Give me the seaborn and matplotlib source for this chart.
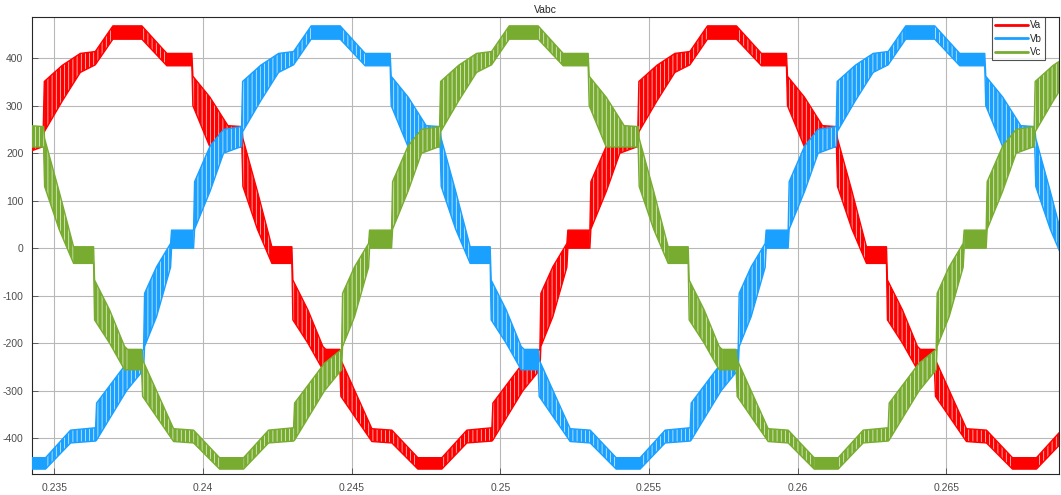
import numpy as np
import pandas as pd
import matplotlib
matplotlib.use("Agg")
import matplotlib.pyplot as plt
import seaborn as sns
from matplotlib.lines import Line2D

# One period of the phase-a voltage band.
# offset_ms: time after the start of the positive top flat (ms)
offset_ms = [0.000, 0.975, 1.816, 2.657, 2.691, 3.263, 3.868, 4.339, 4.373, 4.860, 5.348,
             6.021, 6.054, 6.560, 7.064, 7.165, 7.635, 7.669, 8.712, 9.384, 10.259, 11.066,
             11.907, 12.748, 12.782, 13.790, 14.363, 14.396, 14.800, 15.271, 15.304, 16.044, 16.078,
             16.600, 17.053, 17.659, 17.693, 18.300, 18.904, 19.408]
band_lo = [440, 440, 384, 384, 300, 213, 213, 213, 130, 40, -32,
           -32, -151, -200, -256, -256, -256, -312, -407, -410, -465, -465,
           -410, -406, -404, -300, -256, -207, -144, -40, 0, 0, 40,
           120, 200, 214, 245, 310, 370, 386]
band_hi = [468, 468, 410, 410, 362, 318, 258, 256, 231, 120, 3,
           3, -67, -130, -207, -213, -213, -235, -380, -383, -441, -441,
           -383, -378, -326, -242, -213, -95, -39, 10, 38, 38, 140,
           215, 250, 256, 351, 385, 410, 414]

series = ["Va", "Vb", "Vc"]
colors = ["#FF0000", "#1AA0FF", "#77AC30"]
phase_start_s = [0.23697, 0.24364, 0.25030]
period_s = 0.02

xticks = [0.235, 0.24, 0.245, 0.25, 0.255, 0.26, 0.265]
xticklabels = ["0.235", "0.24", "0.245", "0.25", "0.255", "0.26", "0.265"]
yticks = [-400, -300, -200, -100, 0, 100, 200, 300, 400]
yticklabels = ["-400", "-300", "-200", "-100", "0", "100", "200", "300", "400"]
xlim = (0.23424, 0.26879)
ylim = (-476, 486)

# build long table
rows = []
for name, start in zip(series, phase_start_s):
    for k in range(-2, 3):
        for o, lo, hi in zip(offset_ms, band_lo, band_hi):
            rows.append((name, start + k * period_s + o / 1000.0, lo, hi))
df = pd.DataFrame(rows, columns=["series", "t", "lo", "hi"]).sort_values(["series", "t"], kind="stable")

sns.set_theme(style="whitegrid")
plt.rcParams["font.family"] = ["Liberation Sans", "DejaVu Sans"]
plt.rcParams["hatch.linewidth"] = 0.45

fig = plt.figure(figsize=(10.61, 4.95), dpi=100)
ax = fig.add_axes([0.0299, 0.0418, 0.9681, 0.9232])

for i, (name, col) in enumerate(zip(series, colors)):
    d = df[df["series"] == name]
    t = d["t"].to_numpy()
    lo = d["lo"].to_numpy()
    hi = d["hi"].to_numpy()
    z = 3 + i
    ax.fill_between(t, lo, hi, facecolor=col, linewidth=0, zorder=z)
    # switching (sloped) segments get the PWM stripe texture
    for j in range(len(t) - 1):
        if lo[j] != lo[j + 1] or hi[j] != hi[j + 1]:
            ax.fill_between(t[j:j + 2], lo[j:j + 2], hi[j:j + 2], facecolor="none",
                            edgecolor="white", hatch="||||", linewidth=0, zorder=z)
    sns.lineplot(data=d, x="t", y="hi", ax=ax, color=col, lw=1.0, estimator=None,
                 sort=False, zorder=z)
    sns.lineplot(data=d, x="t", y="lo", ax=ax, color=col, lw=1.0, estimator=None,
                 sort=False, zorder=z)

ax.set_xlim(*xlim)
ax.set_ylim(*ylim)
ax.set_xticks(xticks)
ax.set_xticklabels(xticklabels)
ax.set_yticks(yticks)
ax.set_yticklabels(yticklabels)
ax.set_xlabel("")
ax.set_ylabel("")
ax.set_facecolor("white")
ax.grid(True, color="#b8b8b8", lw=0.8)
ax.tick_params(axis="both", direction="in", length=4, width=0.6, colors="#4d4d4d",
               labelsize=7.5, pad=6, top=False, right=False, bottom=True, left=True)
for s in ax.spines.values():
    s.set_color("#262626")
    s.set_linewidth(0.8)
ax.set_title("Vabc", fontsize=7.5, color="#262626", pad=3)

handles = [Line2D([0], [0], color=c, lw=2) for c in colors]
leg = ax.legend(handles, series, loc="upper right", bbox_to_anchor=(0.9865, 1.0),
                fontsize=7, frameon=True, fancybox=False, borderaxespad=0.0,
                handlelength=3.4, handletextpad=0.2, labelspacing=0.35,
                borderpad=0.3)
leg.get_frame().set_edgecolor("#262626")
leg.get_frame().set_linewidth(0.8)
leg.set_zorder(10)

fig.savefig("out.png", dpi=100)
